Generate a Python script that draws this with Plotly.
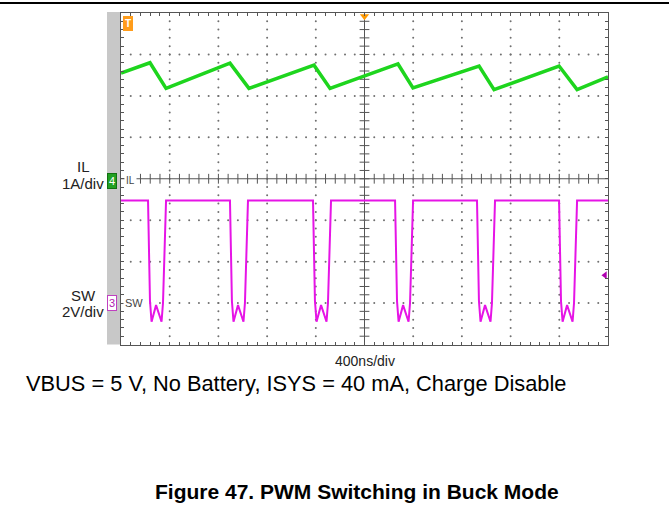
import numpy as np
import plotly.graph_objects as go

# ---------------- data (read from the scope shot) ----------------
# Inductor current IL (A), 1 A/div, ground at centre line
il_time_ns = [0, 238, 370, 895, 1051, 1585, 1717, 2275, 2398, 2941, 3064, 3598, 3746, 4000]
il_amp = [2.55, 2.80, 2.18, 2.79, 2.18, 2.74, 2.18, 2.77, 2.19, 2.72, 2.15, 2.72, 2.15, 2.46]

# Switch node SW (V), 2 V/div, ground 3 div below centre
sw_time_ns = [0,
              222, 238, 251, 288, 333, 345, 370,
              895, 911, 924, 961, 1006, 1018, 1043,
              1577, 1593, 1606, 1643, 1688, 1700, 1725,
              2251, 2267, 2280, 2317, 2362, 2374, 2399,
              2924, 2940, 2953, 2990, 3035, 3047, 3072,
              3598, 3614, 3627, 3664, 3709, 3721, 3746,
              4000]
sw_volt = [4.95,
           4.95, 0.1, -0.9, -0.1, -0.9, 0.0, 4.95,
           4.95, 0.1, -0.9, -0.1, -0.9, 0.0, 4.95,
           4.95, 0.1, -0.9, -0.1, -0.9, 0.0, 4.95,
           4.95, 0.1, -0.9, -0.1, -0.9, 0.0, 4.95,
           4.95, 0.1, -0.9, -0.1, -0.9, 0.0, 4.95,
           4.95, 0.1, -0.9, -0.1, -0.9, 0.0, 4.95,
           4.95]

trigger_level_v = 1.34
time_per_div_ns = 400
il_label = ["IL", "1A/div"]
sw_label = ["SW", "2V/div"]
x_label = "400ns/div"
condition_text = "VBUS = 5 V, No Battery, ISYS = 40 mA, Charge Disable"
figure_title = "Figure 47. PWM Switching in Buck Mode"

# ---------------- layout helpers ----------------
W, H = 669, 519
def px(x):
    return x / W
def py(y):
    return 1 - y / H

X0, X1 = 121, 608
Y0, Y1 = 13, 344.5
FONT = "Liberation Sans, Arial, sans-serif"
GRID = "#707070"
FRAME = "#555555"

fig = go.Figure()

# graticule dots
gx, gy = [], []
for i in range(1, 10):
    if i == 5:
        continue
    for k in range(1, 40):
        gx.append(i * time_per_div_ns)
        gy.append(-4 + k * 0.2)
for j in range(-3, 4):
    if j == 0:
        continue
    for k in range(1, 50):
        gx.append(k * time_per_div_ns / 5)
        gy.append(j)
fig.add_trace(go.Scatter(x=gx, y=gy, mode="markers",
                         marker=dict(size=2, color=GRID, line=dict(width=0)),
                         hoverinfo="skip", showlegend=False))

# centre cross ticks
tx = [k * time_per_div_ns / 5 for k in range(1, 50)]
fig.add_trace(go.Scatter(x=tx, y=[0] * len(tx), mode="markers",
                         marker=dict(symbol="line-ns", size=7, line=dict(width=1, color=FRAME)),
                         hoverinfo="skip", showlegend=False))
ty = [-4 + k * 0.2 for k in range(1, 40)]
fig.add_trace(go.Scatter(x=[2000] * len(ty), y=ty, mode="markers",
                         marker=dict(symbol="line-ew", size=7, line=dict(width=1, color=FRAME)),
                         hoverinfo="skip", showlegend=False))

# waveforms
fig.add_trace(go.Scatter(x=il_time_ns, y=il_amp, mode="lines",
                         line=dict(color="#1ed51e", width=3.5),
                         showlegend=False, yaxis="y"))
fig.add_trace(go.Scatter(x=sw_time_ns, y=sw_volt, mode="lines",
                         line=dict(color="#e614e6", width=2),
                         showlegend=False, yaxis="y2"))

# trigger markers
fig.add_trace(go.Scatter(x=[2000], y=[3.92], mode="markers",
                         marker=dict(symbol="triangle-down", size=8, color="#ff9900"),
                         cliponaxis=False, showlegend=False, hoverinfo="skip"))
fig.add_trace(go.Scatter(x=[3975], y=[trigger_level_v], mode="markers",
                         marker=dict(symbol="triangle-left", size=7, color="#b000b0"),
                         cliponaxis=False, showlegend=False, hoverinfo="skip", yaxis="y2"))

shapes = [
    dict(type="line", xref="paper", yref="paper", x0=0, x1=1, y0=py(3), y1=py(3),
         line=dict(color="black", width=2)),
    dict(type="rect", xref="paper", yref="paper", x0=px(107), x1=px(120), y0=py(Y1), y1=py(12),
         fillcolor="#c8c8c8", line=dict(width=0), layer="below"),
    dict(type="line", xref="x", yref="y", x0=0, x1=4000, y0=0, y1=0,
         line=dict(color=FRAME, width=1), layer="below"),
    dict(type="line", xref="x", yref="y", x0=2000, x1=2000, y0=-4, y1=4,
         line=dict(color=FRAME, width=1), layer="below"),
]

def ann(text, x, y, size, color="#222", xanchor="center", **kw):
    d = dict(text=text, x=px(x), y=py(y), xref="paper", yref="paper", showarrow=False,
             xanchor=xanchor, yanchor="middle", font=dict(family=FONT, size=size, color=color))
    d.update(kw)
    return d

annotations = [
    ann(il_label[0], 83, 166, 15),
    ann(il_label[1], 83, 183, 15),
    ann(sw_label[0], 83, 295, 15),
    ann(sw_label[1], 83, 311, 15),
    ann(x_label, 365, 361, 14),
    ann(condition_text, 24, 383, 21.8, color="black", xanchor="left"),
    ann("<b>" + figure_title + "</b>", 357, 491, 21, color="black"),
    # channel badges
    ann("4", 112, 181, 11, color="white", bgcolor="#22a022", bordercolor="#127012",
        borderpad=1, borderwidth=1),
    ann("IL", 124, 180, 10, color="#444", xanchor="left", bgcolor="white"),
    ann("3", 112, 303, 11, color="#b020b0", bgcolor="white", bordercolor="#c040c0",
        borderpad=1, borderwidth=1),
    ann("SW", 123, 303, 11, color="#444", xanchor="left", bgcolor="white"),
    ann("<b>T</b>", 128, 24, 10, color="white", bgcolor="#ff9c1a", bordercolor="#ff9c1a",
        borderpad=1, borderwidth=1),
]

fig.update_layout(
    width=W, height=H, autosize=False,
    margin=dict(l=0, r=0, t=0, b=0),
    paper_bgcolor="white", plot_bgcolor="white",
    showlegend=False,
    xaxis=dict(domain=[px(X0), px(X1)], range=[0, 4000], showgrid=False, zeroline=False,
               showticklabels=False, ticks="inside", ticklen=3, tickcolor=FRAME,
               dtick=time_per_div_ns / 5, tick0=0, showline=True, linecolor=FRAME,
               linewidth=1, mirror="ticks", fixedrange=True),
    yaxis=dict(domain=[py(Y1), py(Y0)], range=[-4, 4], showgrid=False, zeroline=False,
               showticklabels=False, ticks="inside", ticklen=3, tickcolor=FRAME,
               dtick=0.2, tick0=0, showline=True, linecolor=FRAME, linewidth=1,
               mirror="ticks", fixedrange=True),
    yaxis2=dict(domain=[py(Y1), py(Y0)], range=[-2, 14], overlaying="y", visible=False,
                fixedrange=True),
    shapes=shapes,
    annotations=annotations,
)

fig.write_html("out.html", config={"displayModeBar": False},
               post_script="document.body.style.margin='0px';document.body.style.padding='0px';")
